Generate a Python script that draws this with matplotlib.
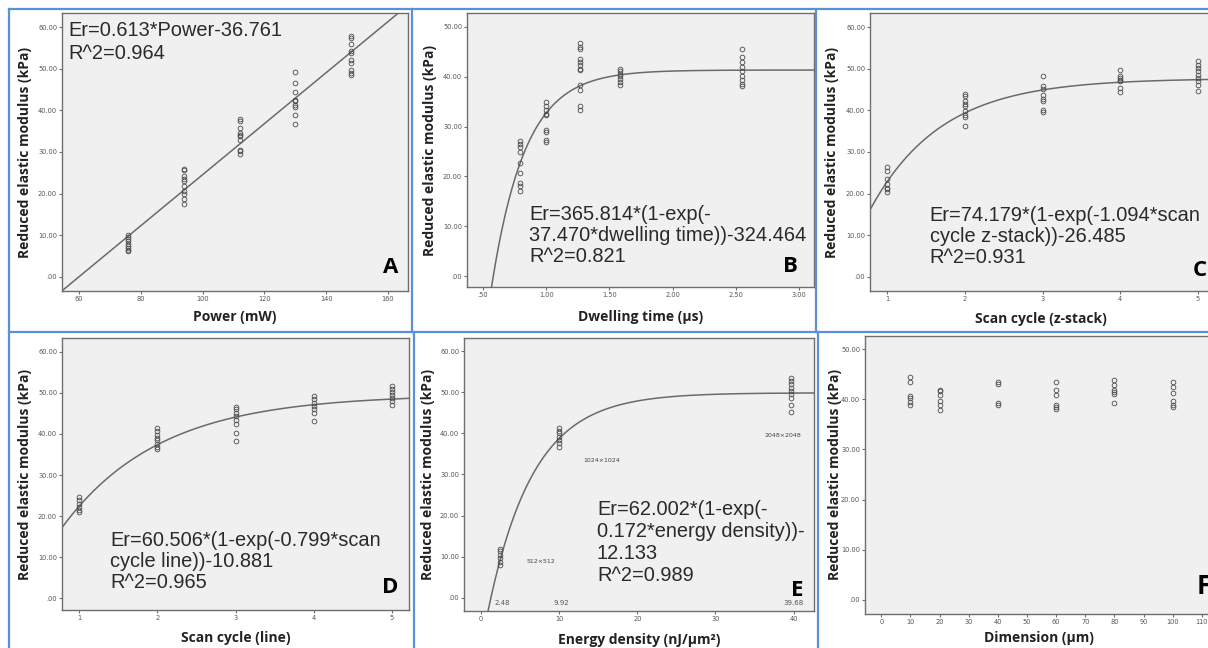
import numpy as np
import matplotlib
matplotlib.use("Agg")
import matplotlib.pyplot as plt
from matplotlib.lines import Line2D
from matplotlib.ticker import FuncFormatter

W, H = 1208, 648

# ---- data ----
power_x = [76, 94, 112, 130, 148]
power_y = [
    [10.0, 9.5, 9.0, 8.5, 8.0, 7.5, 7.0, 6.5, 6.2],
    [25.9, 25.6, 24.2, 23.4, 23.0, 21.8, 20.6, 19.8, 18.7, 17.6],
    [37.9, 37.4, 35.8, 34.6, 34.2, 33.8, 33.0, 30.6, 30.2, 29.4],
    [49.2, 46.6, 44.3, 42.6, 42.2, 41.4, 40.8, 39.0, 36.8],
    [57.8, 57.4, 55.9, 54.2, 53.8, 52.2, 51.5, 49.8, 49.1, 48.6],
]

dwell_x = [0.79, 1.00, 1.27, 1.58, 2.55]
dwell_y = [
    [27.1, 26.5, 25.9, 24.9, 22.7, 20.6, 18.7, 18.0, 17.1],
    [35.0, 34.1, 33.3, 32.6, 32.3, 29.4, 28.9, 27.3, 26.9],
    [46.7, 46.0, 45.5, 43.6, 43.0, 42.3, 41.6, 41.3, 38.3, 37.4, 34.1, 33.3],
    [41.6, 41.2, 40.6, 40.1, 39.6, 39.0, 38.3],
    [45.5, 43.9, 43.0, 42.0, 41.2, 40.1, 39.4, 38.6, 38.1],
]

zstack_x = [1, 2, 3, 4, 5]
zstack_y = [
    [26.3, 25.4, 23.4, 22.2, 21.4, 21.0, 20.3],
    [44.0, 43.4, 42.2, 41.6, 41.0, 39.8, 39.0, 38.4, 36.3],
    [48.2, 45.9, 45.1, 43.8, 42.7, 42.2, 40.0, 39.5],
    [49.6, 48.2, 47.8, 47.4, 47.0, 45.4, 44.3],
    [51.8, 51.0, 50.2, 49.4, 48.6, 47.8, 47.0, 46.2, 44.6],
]

line_x = [1, 2, 3, 4, 5]
line_y = [
    [24.6, 23.8, 23.0, 22.2, 21.4, 21.0],
    [41.5, 40.7, 39.8, 39.0, 38.5, 37.6, 36.8, 36.3],
    [46.7, 46.0, 45.2, 44.4, 43.3, 42.5, 40.3, 38.3],
    [49.3, 48.5, 47.6, 46.8, 46.0, 45.2, 43.2],
    [51.6, 50.9, 50.2, 49.4, 48.8, 48.0, 47.0],
]

energy_x = [2.48, 9.92, 39.68]
energy_y = [
    [12.0, 11.3, 10.5, 9.7, 8.7, 8.1],
    [41.4, 40.6, 40.0, 39.2, 38.4, 37.6, 36.8],
    [53.5, 52.7, 51.9, 51.1, 50.3, 49.5, 48.7, 46.9, 45.1],
]
energy_res = ["512x512", "1024x1024", "2048x2048"]

dim_x = [10, 20, 40, 60, 80, 100]
dim_y = [
    [44.5, 43.5, 40.6, 40.2, 39.4, 38.8],
    [41.9, 41.6, 40.8, 39.7, 38.9, 37.9],
    [43.4, 43.0, 39.2, 38.9],
    [43.5, 41.8, 40.8, 38.9, 38.5, 38.1],
    [43.9, 42.9, 41.9, 41.4, 41.0, 39.2],
    [43.5, 42.4, 41.2, 39.7, 38.9, 38.5],
]

# fit parameters printed on the panels
fit_a = (0.613, -36.761)
fit_b = (365.814, 37.470, -324.464)
fit_c = (74.179, 1.094, -26.485)
fit_d = (60.506, 0.799, -10.881)
fit_e = (62.002, 0.172, -12.133)

FACE = "#f0f0f0"
SPINE = "#6e6e6e"
MARK = "#4a4a4a"
FITC = "#6a6a6a"
BLUE = "#5b8fd6"


def rect(l, t, r, b):
    return [l / W, 1 - b / H, (r - l) / W, (b - t) / H]


def spss_fmt(v, pos):
    s = f"{v:.2f}"
    if s.startswith("0"):
        s = s[1:]
    return s


def style_axes(ax, xlabel, xlim, ylim, xticks, yticks, xfmt, ylab_x, xlab_y):
    ax.set_facecolor(FACE)
    for sp in ax.spines.values():
        sp.set_color(SPINE)
        sp.set_linewidth(1.0)
    ax.set_xlim(xlim)
    ax.set_ylim(ylim)
    ax.set_xticks(xticks)
    ax.set_yticks(yticks)
    ax.yaxis.set_major_formatter(FuncFormatter(spss_fmt))
    if xfmt is not None:
        ax.xaxis.set_major_formatter(FuncFormatter(xfmt))
    ax.tick_params(labelsize=4.8, labelcolor="#555555", color=SPINE,
                   length=2.5, width=0.8, pad=1)
    ax.set_xlabel(xlabel, fontsize=10, fontweight="bold", family="Open Sans",
                  color="#222222")
    ax.set_ylabel("Reduced elastic modulus (kPa)", fontsize=10,
                  fontweight="bold", family="Open Sans", color="#222222")
    ax.yaxis.set_label_coords(ylab_x, 0.5)
    ax.xaxis.set_label_coords(0.5, xlab_y)


def scatter_groups(ax, xs, ys):
    for x, col in zip(xs, ys):
        ax.plot([x] * len(col), col, "o", ms=3.4, mfc="none", mec=MARK,
                mew=0.6, zorder=3)


def exp_fit(p, x):
    a, k, c = p
    return a * (1 - np.exp(-k * x)) + c


def add_text(ax, x, y, s, ls=1.0):
    ax.text(x, y, s, transform=ax.transAxes, fontsize=14.4,
            family="Liberation Sans", color="#2a2a2a", va="top", ha="left",
            linespacing=ls, zorder=5)


def add_letter(ax, x, y, s, size=16):
    ax.text(x, y, s, transform=ax.transAxes, fontsize=size,
            family="Open Sans", fontweight="bold", color="black",
            ha="right", va="bottom", zorder=5)


fig = plt.figure(figsize=(W / 100, H / 100), dpi=100)

# ---- A ----
ax = fig.add_axes(rect(62, 13, 408, 291))
scatter_groups(ax, power_x, power_y)
xx = np.linspace(54.5, 166.5, 50)
ax.plot(xx, fit_a[0] * xx + fit_a[1], color=FITC, lw=1.1, zorder=2)
style_axes(ax, "Power (mW)", (54.5, 166.5), (-3.4, 63.4),
           range(60, 161, 20), range(0, 61, 10),
           lambda v, p: f"{v:.0f}", -0.087, -0.068)
add_text(ax, 0.017, 0.972, "Er=0.613*Power-36.761\nR^2=0.964", ls=1.25)
add_letter(ax, 0.971, 0.045, "A")

# ---- B ----
ax = fig.add_axes(rect(467, 13, 814, 287))
scatter_groups(ax, dwell_x, dwell_y)
xx = np.linspace(0.55, 3.12, 300)
# dwelling time on the fit was given in units of 0.1 us
ax.plot(xx, exp_fit(fit_b, xx / 10), color=FITC, lw=1.1, zorder=2)
style_axes(ax, "Dwelling time (\u00b5s)", (0.374, 3.118), (-2.2, 52.8),
           np.arange(0.5, 3.01, 0.5), range(0, 51, 10),
           spss_fmt, -0.086, -0.084)
add_text(ax, 0.179, 0.298,
         "Er=365.814*(1-exp(-\n37.470*dwelling time))-324.464\nR^2=0.821",
         ls=1.13)
add_letter(ax, 0.954, 0.035, "B")

# ---- C ----
ax = fig.add_axes(rect(870, 13, 1212, 291))
scatter_groups(ax, zstack_x, zstack_y)
xx = np.linspace(0.78, 5.2, 200)
ax.plot(xx, exp_fit(fit_c, xx), color=FITC, lw=1.1, zorder=2)
style_axes(ax, "Scan cycle (z-stack)", (0.78, 5.18), (-3.4, 63.4),
           zstack_x, range(0, 61, 10), lambda v, p: f"{v:.0f}",
           -0.091, -0.075)
add_text(ax, 0.175, 0.305,
         "Er=74.179*(1-exp(-1.094*scan\ncycle z-stack))-26.485\nR^2=0.931",
         ls=1.13)
add_letter(ax, 0.985, 0.035, "C")

# ---- D ----
ax = fig.add_axes(rect(62, 338, 409, 610))
scatter_groups(ax, line_x, line_y)
xx = np.linspace(0.78, 5.22, 200)
ax.plot(xx, exp_fit(fit_d, xx), color=FITC, lw=1.1, zorder=2)
style_axes(ax, "Scan cycle (line)", (0.78, 5.22), (-2.9, 63.4),
           line_x, range(0, 61, 10), lambda v, p: f"{v:.0f}",
           -0.086, -0.077)
add_text(ax, 0.138, 0.29,
         "Er=60.506*(1-exp(-0.799*scan\ncycle line))-10.881\nR^2=0.965",
         ls=1.13)
add_letter(ax, 0.968, 0.045, "D")

# ---- E ----
ax = fig.add_axes(rect(464, 338, 814, 611))
scatter_groups(ax, energy_x, energy_y)
xx = np.linspace(0.5, 42.6, 400)
ax.plot(xx, exp_fit(fit_e, xx), color=FITC, lw=1.1, zorder=2)
style_axes(ax, "Energy density (nJ/\u00b5m\u00b2)", (-2.17, 42.6), (-3.2, 63.2),
           range(0, 41, 10), range(0, 61, 10), lambda v, p: f"{v:.0f}",
           -0.083, -0.081)
for x in energy_x:
    ax.text(x + 0.3, -2.0, f"{x:.2f}", fontsize=5, color="#555555",
            ha="center", va="bottom")
res_pos = [(7.7, 8.9), (15.4, 33.5), (38.6, 39.4)]
for (px, py), lab in zip(res_pos, energy_res):
    ax.text(px, py, lab.replace("x", "\u00d7"), fontsize=4.5, color="#444444",
            ha="center", va="center")
add_text(ax, 0.38, 0.405,
         "Er=62.002*(1-exp(-\n0.172*energy density))-\n12.133\nR^2=0.989",
         ls=1.2)
add_letter(ax, 0.969, 0.035, "E")

# ---- F ----
ax = fig.add_axes(rect(865, 336, 1212, 614))
scatter_groups(ax, dim_x, dim_y)
style_axes(ax, "Dimension (\u00b5m)", (-5.6, 113.5), (-2.8, 52.6),
           range(0, 111, 10), range(0, 51, 10), lambda v, p: f"{v:.0f}",
           -0.066, -0.061)
add_letter(ax, 0.997, 0.05, "F", size=19)

# ---- blue panel frames ----
def hline(y, x0, x1):
    fig.add_artist(Line2D([x0 / W, x1 / W], [1 - y / H, 1 - y / H],
                          color=BLUE, lw=1.6))


def vline(x, y0, y1):
    fig.add_artist(Line2D([x / W, x / W], [1 - y0 / H, 1 - y1 / H],
                          color=BLUE, lw=1.6))


hline(9, 9, W)
hline(332, 9, W)
vline(9, 9, H)
vline(412, 9, 332)
vline(816, 9, 332)
vline(414, 332, H)
vline(818, 332, H)

fig.savefig("out.png", dpi=100, facecolor="white")
